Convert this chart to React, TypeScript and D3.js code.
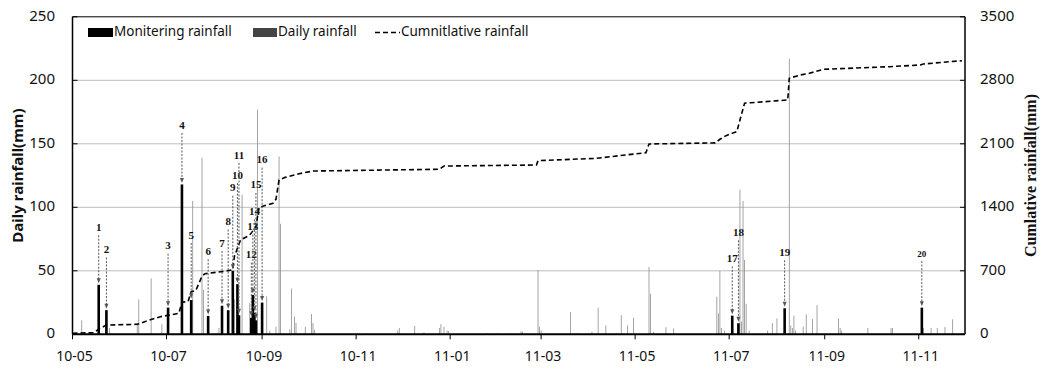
import * as d3 from "d3";

const parseDate = d3.timeParse("%Y-%m-%d");

// x axis: month ticks every 2 months
const xTickDates = [
  "2010-05-01", "2010-07-01", "2010-09-01", "2010-11-01", "2011-01-01",
  "2011-03-01", "2011-05-01", "2011-07-01", "2011-09-01", "2011-11-01",
];
const xTickLabels = ["10-05", "10-07", "10-09", "10-11", "11-01", "11-03", "11-05", "11-07", "11-09", "11-11"];
const leftTicks = [0, 50, 100, 150, 200, 250];
const rightTicks = [0, 700, 1400, 2100, 2800, 3500];

// monitoring events (numbered 1..20)
const monitorDates = [
  "2010-05-18", "2010-05-23", "2010-07-02", "2010-07-11", "2010-07-17",
  "2010-07-28", "2010-08-06", "2010-08-10", "2010-08-13", "2010-08-16",
  "2010-08-17", "2010-08-25", "2010-08-26", "2010-08-27", "2010-08-28",
  "2010-09-01", "2011-07-03", "2011-07-07", "2011-08-06", "2011-11-03",
];
const monitorValues = [39, 19, 21, 118, 27, 14.5, 22.5, 19, 50, 39.5, 15, 13, 31, 17, 11, 25, 14.7, 8.7, 20.5, 21];
// height (mm, left axis) where each event number is written
const labelLevels = [83.5, 66, 69, 164, 77.4, 64.6, 71, 88, 114.6, 124.6, 140.4, 62, 84, 96, 116.8, 136.7, 59, 79.5, 63.8, 62.4];

// daily rainfall
const dailyDates = [
  "2010-05-07", "2010-05-25", "2010-06-12", "2010-06-13", "2010-06-21", "2010-06-28",
  "2010-07-18", "2010-07-24", "2010-07-25", "2010-08-04", "2010-08-14", "2010-08-19",
  "2010-08-24", "2010-08-29", "2010-09-04", "2010-09-06", "2010-09-10", "2010-09-12",
  "2010-09-13", "2010-09-19", "2010-09-20", "2010-09-22", "2010-09-23", "2010-09-29",
  "2010-10-03", "2010-10-04", "2010-10-05", "2010-11-08", "2010-11-28", "2010-11-29",
  "2010-12-09", "2010-12-15", "2010-12-25", "2010-12-26", "2010-12-28", "2010-12-30",
  "2010-12-31", "2011-01-25", "2011-01-31", "2011-02-09", "2011-02-16", "2011-02-17",
  "2011-02-27", "2011-02-28", "2011-03-01", "2011-03-20", "2011-03-24", "2011-04-03",
  "2011-04-07", "2011-04-12", "2011-04-19", "2011-04-22", "2011-04-26", "2011-04-30",
  "2011-05-10", "2011-05-11", "2011-05-13", "2011-05-21", "2011-05-26", "2011-06-23",
  "2011-06-24", "2011-06-25", "2011-06-26", "2011-06-28", "2011-07-08", "2011-07-09",
  "2011-07-10", "2011-07-11", "2011-07-12", "2011-07-14", "2011-07-23", "2011-07-26",
  "2011-07-29", "2011-08-01", "2011-08-09", "2011-08-10", "2011-08-11", "2011-08-12",
  "2011-08-13", "2011-08-18", "2011-08-20", "2011-08-24", "2011-08-27", "2011-09-10",
  "2011-09-11", "2011-09-12", "2011-09-29", "2011-10-14", "2011-10-15", "2011-11-04",
  "2011-11-09", "2011-11-13", "2011-11-18", "2011-11-23",
];
const dailyValues = [
  11, 5, 9, 27.5, 44, 8,
  105, 139, 35, 5, 27.5, 110,
  24.5, 177, 30, 3, 6, 140,
  87, 4, 36, 14, 9, 6,
  16, 9, 3.5, 1, 3, 5,
  6.5, 1.5, 5, 8, 6, 3,
  2.5, 1, 1, 1, 2.5, 2,
  50.6, 6, 3, 17.6, 1, 2,
  21, 7, 1, 15, 7, 13,
  53, 32, 2, 5.5, 4.5, 29.6,
  16.5, 50, 5, 3, 114, 10,
  105, 58.5, 24, 3, 1, 3,
  8.7, 12.6, 217, 7, 5, 14.7,
  3, 6, 15.7, 12, 23, 12.6,
  5, 3, 5, 5, 5, 5,
  5, 5, 5.7, 11.8,
];

// cumulative rainfall (right axis)
const cumDates = [
  "2010-05-01", "2010-05-15", "2010-05-18", "2010-05-23", "2010-06-12", "2010-06-20",
  "2010-06-27", "2010-07-09", "2010-07-11", "2010-07-15", "2010-07-17", "2010-07-20",
  "2010-07-24", "2010-07-26", "2010-08-08", "2010-08-13", "2010-08-14", "2010-08-16",
  "2010-08-18", "2010-08-22", "2010-08-24", "2010-08-26", "2010-08-28", "2010-08-30",
  "2010-09-08", "2010-09-10", "2010-09-12", "2010-09-16", "2010-09-25", "2010-10-04",
  "2010-12-25", "2010-12-28", "2011-02-26", "2011-02-27", "2011-04-06", "2011-05-08",
  "2011-05-10", "2011-06-22", "2011-06-25", "2011-06-29", "2011-07-06", "2011-07-08",
  "2011-07-11", "2011-07-15", "2011-08-08", "2011-08-09", "2011-08-16", "2011-08-22",
  "2011-08-31", "2011-10-13", "2011-11-02", "2011-11-04", "2011-11-29",
];
const cumValues = [
  11, 18, 57, 102, 110, 158,
  194, 231, 353, 362, 470, 483,
  640, 668, 695, 712, 856, 948,
  1040, 1076, 1095, 1140, 1190, 1400,
  1444, 1488, 1701, 1730, 1770, 1800,
  1819, 1855, 1866, 1914, 1940, 2002,
  2098, 2110, 2150, 2190, 2234, 2362,
  2547, 2553, 2583, 2822, 2858, 2877,
  2921, 2950, 2969, 2980, 3016,
];

const W = 1041;
const H = 372;
const left = 72.5;
const right = 965;
const top = 16.8;
const bottom = 334.3;

const sans = "'Noto Sans', 'DejaVu Sans', sans-serif";
const serif = "'Liberation Serif', 'DejaVu Serif', serif";

export default function App() {
  const x = d3
    .scaleTime()
    .domain([parseDate("2010-05-01")!, parseDate("2011-12-01")!])
    .range([left, right]);
  const y = d3.scaleLinear().domain([0, 250]).range([bottom, top]);
  const yCum = d3.scaleLinear().domain([0, 3500]).range([bottom, top]);

  const daily = dailyDates.map((d, i) => ({ date: parseDate(d)!, value: dailyValues[i] }));
  const monitor = monitorDates.map((d, i) => ({
    date: parseDate(d)!,
    value: monitorValues[i],
    level: labelLevels[i],
    label: String(i + 1),
  }));
  const cum = cumDates.map((d, i) => ({ date: parseDate(d)!, value: cumValues[i] }));

  const line = d3
    .line<{ date: Date; value: number }>()
    .x((d) => x(d.date))
    .y((d) => yCum(d.value));

  const dailyW = 0.8;
  const monW = 2.6;

  return (
    <svg
      width={W}
      height={H}
      style={{ position: "absolute", left: 0, top: 0, background: "#fff" }}
    >
      {/* grid */}
      {leftTicks.slice(1, -1).map((t) => (
        <line key={t} x1={left} x2={right} y1={y(t)} y2={y(t)} stroke="#bdbdbd" strokeWidth={1} />
      ))}

      {/* daily rainfall */}
      {daily.map((d, i) => (
        <rect
          key={i}
          x={x(d.date) - dailyW / 2}
          y={y(d.value)}
          width={dailyW}
          height={bottom - y(d.value)}
          fill="#8e8e8e"
        />
      ))}

      {/* monitoring rainfall */}
      {monitor.map((d, i) => (
        <rect
          key={i}
          x={x(d.date) - monW / 2}
          y={y(d.value)}
          width={monW}
          height={bottom - y(d.value)}
          fill="#000"
        />
      ))}

      {/* cumulative */}
      <path d={line(cum) ?? ""} fill="none" stroke="#000" strokeWidth={1.6} strokeDasharray="5,3" />

      {/* event arrows */}
      {monitor.map((d, i) => {
        const bx = x(d.date);
        const ly = y(d.level);
        const tip = y(d.value) - 1.5;
        const small = d.label === "20";
        return (
          <g key={i}>
            <line
              x1={bx}
              x2={bx}
              y1={ly + (small ? 6 : 7)}
              y2={tip - 4}
              stroke="#555"
              strokeWidth={1}
              strokeDasharray="2,1.5"
            />
            <path d={`M${bx - 2},${tip - 5} L${bx + 2},${tip - 5} L${bx},${tip} Z`} fill="#555" />
            <text
              x={bx}
              y={ly}
              textAnchor="middle"
              dominantBaseline="middle"
              fontFamily={serif}
              fontWeight="bold"
              fontSize={small ? 9 : 11}
              fill="#111"
            >
              {d.label}
            </text>
          </g>
        );
      })}

      {/* frame */}
      <line x1={left} x2={right} y1={top} y2={top} stroke="#000" strokeWidth={1} />
      <line x1={left} x2={left} y1={top} y2={bottom} stroke="#000" strokeWidth={1.5} />
      <line x1={right} x2={right} y1={top} y2={bottom} stroke="#000" strokeWidth={1.5} />
      <line x1={left} x2={right} y1={bottom} y2={bottom} stroke="#000" strokeWidth={2} />

      {/* left axis */}
      {leftTicks.map((t) => (
        <g key={t}>
          <line x1={left} x2={left + 5} y1={y(t)} y2={y(t)} stroke="#000" />
          <text
            x={55}
            y={y(t)}
            textAnchor="end"
            dominantBaseline="middle"
            fontFamily={sans}
            fontSize={15}
            fill="#111"
          >
            {t}
          </text>
        </g>
      ))}

      {/* right axis */}
      {rightTicks.map((t) => (
        <g key={t}>
          <line x1={right - 5} x2={right} y1={yCum(t)} y2={yCum(t)} stroke="#000" />
          <text
            x={980}
            y={yCum(t)}
            textAnchor="start"
            dominantBaseline="middle"
            fontFamily={sans}
            fontSize={15}
            fill="#111"
          >
            {t}
          </text>
        </g>
      ))}

      {/* bottom axis */}
      {xTickDates.map((d, i) => {
        const tx = x(parseDate(d)!);
        return (
          <g key={d}>
            <line x1={tx} x2={tx} y1={bottom} y2={bottom + 5} stroke="#000" />
            <text
              x={tx + 2}
              y={361}
              textAnchor="middle"
              fontFamily={sans}
              fontSize={14}
              fill="#111"
            >
              {xTickLabels[i]}
            </text>
          </g>
        );
      })}

      {/* axis titles */}
      <text
        transform={`translate(23,${(top + bottom) / 2}) rotate(-90)`}
        textAnchor="middle"
        fontFamily={sans}
        fontWeight="bold"
        fontSize={15}
        fill="#111"
      >
        Daily rainfall(mm)
      </text>
      <text
        transform={`translate(1036,${(top + bottom) / 2}) rotate(-90)`}
        textAnchor="middle"
        fontFamily={serif}
        fontWeight="bold"
        fontSize={16}
        fill="#111"
      >
        Cumlative rainfall(mm)
      </text>

      {/* legend */}
      <g fontFamily={sans} fontSize={13.5} fill="#111">
        <rect x={88} y={28} width={25} height={9} fill="#000" />
        <text x={114} y={32.5} dominantBaseline="middle">
          Monitering rainfall
        </text>
        <rect x={253} y={28} width={24} height={9} fill="#444" />
        <text x={278} y={32.5} dominantBaseline="middle">
          Daily rainfall
        </text>
        <line x1={375} x2={400} y1={32.5} y2={32.5} stroke="#000" strokeWidth={1.6} strokeDasharray="5,3" />
        <text x={401} y={32.5} dominantBaseline="middle">
          Cumnitlative rainfall
        </text>
      </g>
    </svg>
  );
}
